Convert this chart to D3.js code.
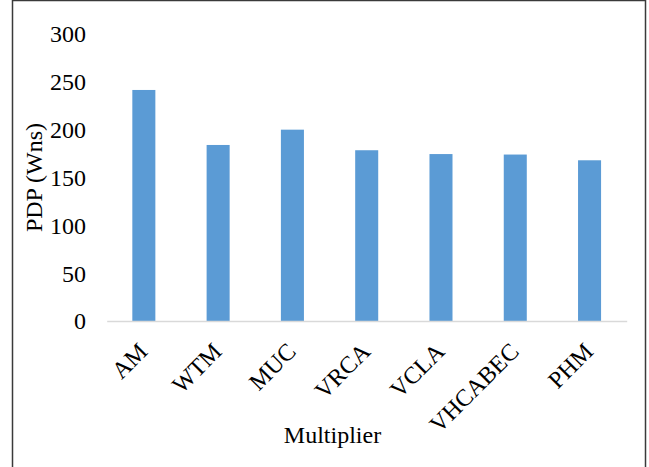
<!DOCTYPE html>
<html>
<head>
<meta charset="utf-8">
<script src="https://cdn.jsdelivr.net/npm/d3@7"></script>
<style>
  html, body { margin: 0; padding: 0; background: #fff; }
  svg { display: block; }
  text { font-family: "Liberation Serif", "Times New Roman", serif; fill: #000; }
</style>
</head>
<body>
<svg id="chart" width="649" height="467"></svg>
<script>
// PDP of each multiplier design
const categories = ["AM", "WTM", "MUC", "VRCA", "VCLA", "VHCABEC", "PHM"];
const pdpValues = [241.5, 184, 200, 178.5, 174.5, 174, 168];
const yTicks = [0, 50, 100, 150, 200, 250, 300];
const yTitle = "PDP (Wns)";
const xTitle = "Multiplier";

const svg = d3.select("#chart");

// outer frame
svg.append("rect")
  .attr("x", 12.5).attr("y", 0.5)
  .attr("width", 633).attr("height", 480)
  .attr("fill", "none")
  .attr("stroke", "#3a3a3a")
  .attr("stroke-width", 1.5);

const plot = { left: 106.7, right: 626.7, top: 34, bottom: 321 };

const x = d3.scaleBand()
  .domain(categories)
  .range([plot.left, plot.right])
  .paddingInner(0.69)
  .paddingOuter(0.345);

const y = d3.scaleLinear()
  .domain([0, 300])
  .range([plot.bottom, plot.top]);

// bars
svg.append("g")
  .selectAll("rect")
  .data(categories)
  .join("rect")
  .attr("x", d => x(d))
  .attr("width", x.bandwidth())
  .attr("y", (d, i) => y(pdpValues[i]))
  .attr("height", (d, i) => y(0) - y(pdpValues[i]))
  .attr("fill", "#5b9bd5");

// category axis
const xAxis = svg.append("g")
  .attr("transform", `translate(0,${plot.bottom})`)
  .call(d3.axisBottom(x).tickSize(0).tickPadding(0));
xAxis.select(".domain").attr("stroke", "#d9d9d9").attr("stroke-width", 1.3);
xAxis.selectAll(".tick text")
  .style("font-family", '"Liberation Serif", serif')
  .style("font-size", "24px")
  .attr("fill", "#000")
  .attr("text-anchor", "end")
  .attr("dy", null)
  .attr("y", 0)
  .attr("transform", "translate(5,32) rotate(-45)");

// value axis (labels only)
const yAxis = svg.append("g")
  .attr("transform", `translate(86,0)`)
  .call(d3.axisLeft(y).tickValues(yTicks).tickSize(0).tickPadding(0));
yAxis.select(".domain").remove();
yAxis.selectAll(".tick text")
  .style("font-family", '"Liberation Serif", serif')
  .style("font-size", "24px")
  .attr("fill", "#000")
  .attr("dy", "0.33em");

// axis titles
svg.append("text")
  .attr("transform", "translate(42,177.5) rotate(-90)")
  .attr("text-anchor", "middle")
  .style("font-size", "24px")
  .text(yTitle);

svg.append("text")
  .attr("x", 332.5).attr("y", 443)
  .attr("text-anchor", "middle")
  .style("font-size", "24px")
  .text(xTitle);
</script>
</body>
</html>
